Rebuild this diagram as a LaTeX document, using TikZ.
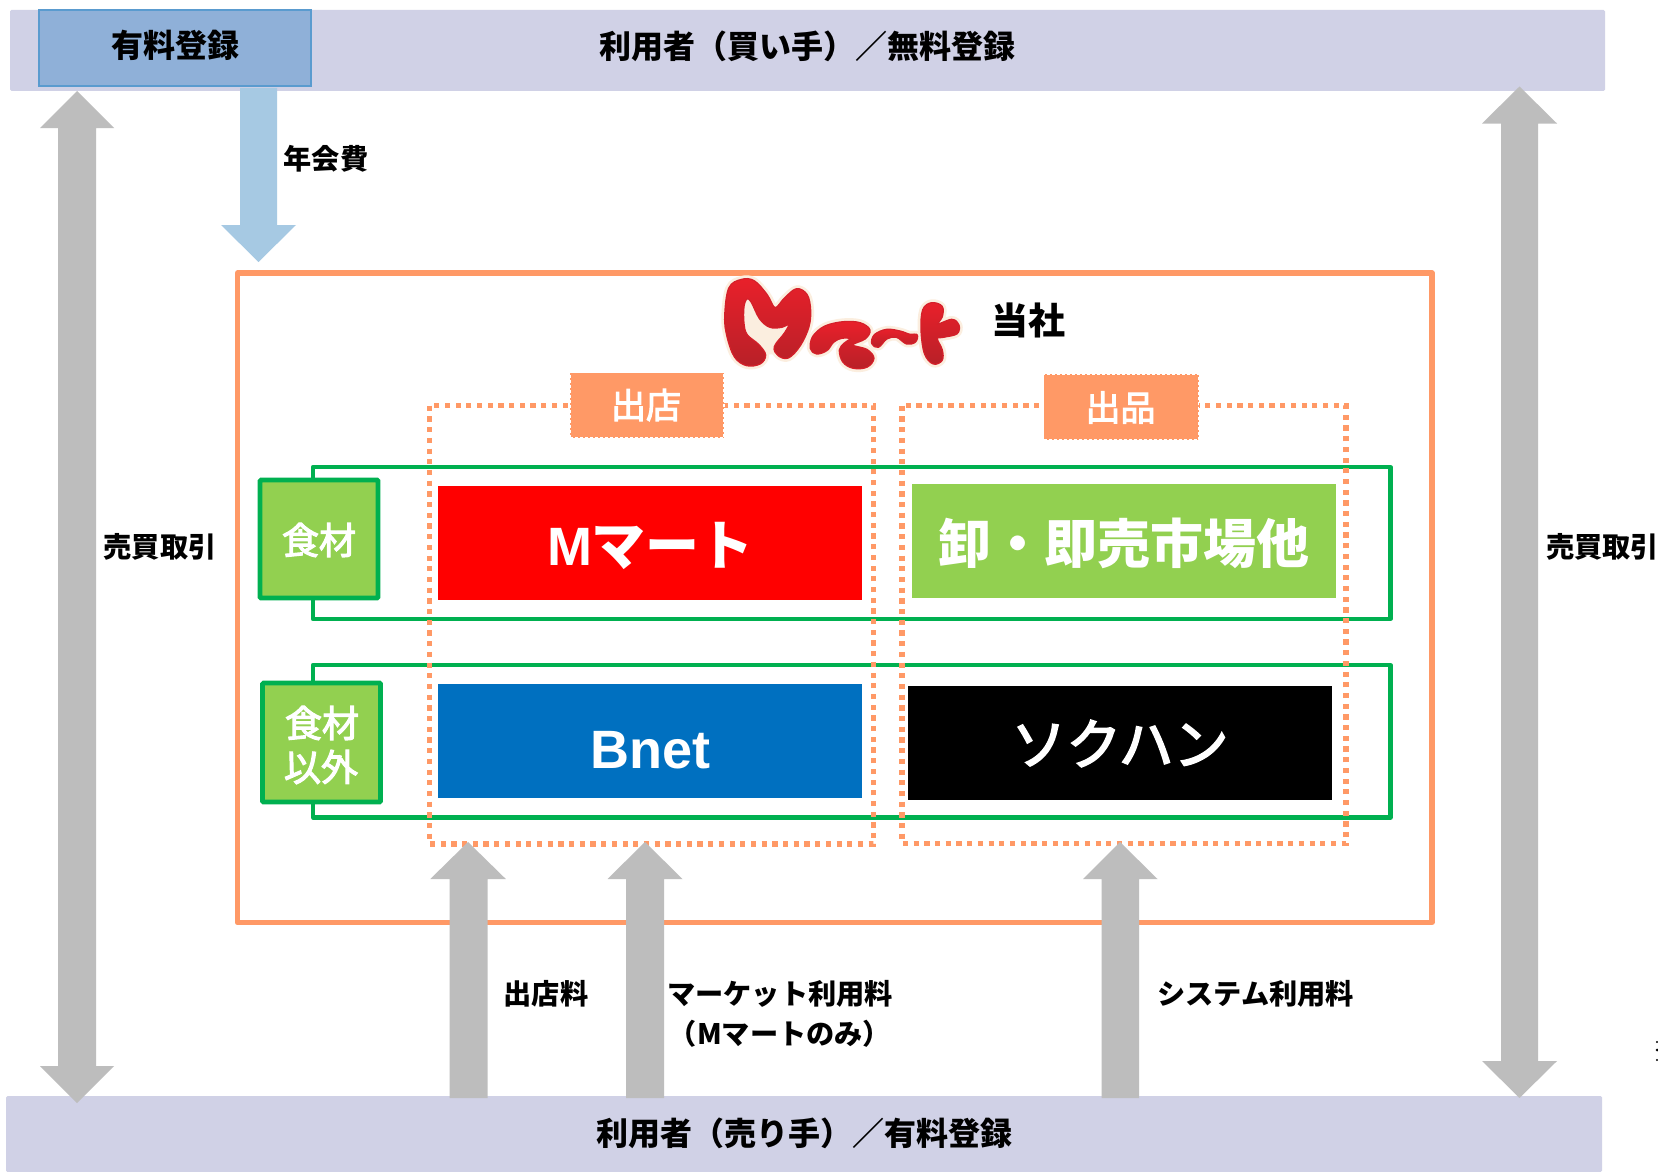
\documentclass[tikz,border=0pt]{standalone}
\usepackage{fontspec}
\setmainfont{Noto Sans CJK JP}
\newfontfamily\arialf{Liberation Sans}
\newfontfamily\medf[FakeBold=3]{Noto Sans CJK JP}
\newcommand{\fsz}[1]{\fontsize{#1}{#1}\selectfont}
\definecolor{barC}{HTML}{D0D1E6}
\definecolor{payC}{HTML}{8FB0D8}
\definecolor{payE}{HTML}{5A9BCF}
\definecolor{feeC}{HTML}{A6C9E3}
\definecolor{grayA}{HTML}{BDBDBD}
\definecolor{orangeC}{HTML}{FF9966}
\definecolor{greenD}{HTML}{00B050}
\definecolor{greenL}{HTML}{92D050}
\definecolor{blueB}{HTML}{0070C0}
\definecolor{creamC}{HTML}{FBEEDF}
\definecolor{logoT}{HTML}{E8202A}
\definecolor{logoB}{HTML}{B82028}
\definecolor{logoM}{HTML}{D4202A}
\tikzset{
  x=1pt,y=-1pt,
  bar/.style={fill=barC,rounded corners=1.5pt,outer sep=0pt},
  blockarrow/.style={fill=grayA,draw=none},
  feearrow/.style={fill=feeC,draw=none},
  band/.style={draw=greenD,line width=4.2pt,line join=round},
  dotframe/.style={draw=orangeC,line width=5.4pt,dash pattern=on 5.2pt off 5.5pt},
  solidbox/.style={anchor=north west,inner sep=0pt,outer sep=0pt,minimum width=424pt,minimum height=114pt},
  boxtext/.style={inner sep=0pt,text=white,font=\bfseries\fsz{53}},
  tagbox/.style={anchor=north west,inner sep=0pt,outer sep=0pt,fill=orangeC,draw=white,line width=1.3pt,dash pattern=on 3pt off 2pt},
  catbox/.style={anchor=north west,inner sep=0pt,outer sep=0pt,fill=greenL,draw=greenD,line width=4.6pt,rounded corners=1pt},
  tagtext/.style={inner sep=0pt,text=white,font=\medf\fsz{35}},
  cattext/.style={inner sep=0pt,text=white,font=\medf\fsz{37}},
  lab/.style={inner sep=0pt,text=black,font=\bfseries\fsz{28.2},align=center},
  barlab/.style={inner sep=0pt,text=black,font=\bfseries\fsz{32}},
  logohalo/.style={draw=creamC,line width=8pt,line join=round,fill=creamC},
  logoedge/.style={draw=logoM,line width=2.6pt,line join=round},
  logoink/.style={top color=logoT,bottom color=logoB,draw=none},
}
\begin{document}
\begin{tikzpicture}
\useasboundingbox (0,0) rectangle (1658,1172);
\fill[white] (0,0) rectangle (1658,1172);

% bars
\node[bar,anchor=north west,inner sep=0pt,minimum width=1595pt,minimum height=81pt] (topbar) at (10,10) {};
\node[bar,anchor=north west,inner sep=0pt,minimum width=1596pt,minimum height=76pt] (botbar) at (6,1096) {};
\node[barlab] (toptext) at (807,46) {利用者（買い手）／無料登録};
\node[barlab] (bottext) at (804,1133.5) {利用者（売り手）／有料登録};
\node[anchor=north west,inner sep=0pt,outer sep=0pt,fill=payC,draw=payE,line width=2pt,minimum width=272pt,minimum height=76pt] (paid) at (39,10) {};
\node[barlab] (paidtext) at (175,45) {有料登録};

% company frame
\draw[draw=orangeC,line width=5.4pt,line join=round] (237.5,273) rectangle (1432,922.5);

% product bands
\draw[band] (313,467) rectangle (1390.5,619);
\draw[band] (313,665) rectangle (1390.5,817.5);

% channel frames
\draw[dotframe] (429.5,405.7) rectangle (873.5,844);
\draw[dotframe] (902,405.7) rectangle (1346,843.5);

% market boxes
\node[solidbox,fill=red] (mmart) at (438,486) {};
\node[boxtext,font=\bfseries\fsz{54}] (mmarttext) at (650.5,546) {{\arialf M}マート};
\node[solidbox,fill=greenL] (oroshi) at (912,484) {};
\node[boxtext] (oroshitext) at (1124,543) {卸・即売市場他};
\node[solidbox,fill=blueB] (bnet) at (438,684) {};
\node[boxtext,font=\bfseries\arialf\fsz{54}] (bnettext) at (650.5,750.5) {Bnet};
\node[solidbox,fill=black] (sokuhan) at (908,686) {};
\node[boxtext,font=\medf\fsz{55}] (sokuhantext) at (1120,743.5) {ソクハン};

% tags
\node[tagbox,minimum width=154pt,minimum height=65pt] (shutten) at (570,372.5) {};
\node[tagtext] (shuttentext) at (646,405) {出店};
\node[tagbox,minimum width=155pt,minimum height=66pt] (shuppin) at (1043.5,374) {};
\node[tagtext] (shuppintext) at (1120.5,407.5) {出品};
\node[catbox,minimum width=118pt,minimum height=118pt] (food) at (260,480) {};
\node[cattext] (foodtext) at (319,540) {食材};
\node[catbox,minimum width=118pt,minimum height=119pt] (nonfood) at (262.5,683) {};
\node[cattext] (nonfoodA) at (322,723) {食材};
\node[cattext] (nonfoodB) at (321,767) {以外};

% grey up arrows
\fill[blockarrow] (468,842) -- (505.8,879) -- (487.5,879) -- (487.5,1098) -- (449.5,1098) -- (449.5,879) -- (430.3,879) -- cycle;
\fill[blockarrow] (645,842) -- (682.5,879) -- (664,879) -- (664,1098) -- (626,1098) -- (626,879) -- (607.5,879) -- cycle;
\fill[blockarrow] (1120,842) -- (1157.5,879) -- (1139,879) -- (1139,1098) -- (1101.5,1098) -- (1101.5,879) -- (1083,879) -- cycle;
% grey double arrows
\fill[blockarrow] (77,91) -- (114,128) -- (96,128) -- (96,1066) -- (114,1066) -- (77,1103) -- (40,1066) -- (58,1066) -- (58,128) -- (40,128) -- cycle;
\fill[blockarrow] (1519.5,86.5) -- (1557,123.5) -- (1538,123.5) -- (1538,1061) -- (1557,1061) -- (1519.5,1098) -- (1482,1061) -- (1501,1061) -- (1501,123.5) -- (1482,123.5) -- cycle;
% annual-fee arrow
\fill[feearrow] (240,88) -- (277,88) -- (277,225) -- (296,225) -- (258.5,262) -- (221,225) -- (240,225) -- cycle;

% labels
\node[lab] (nenkai) at (326,159) {年会費};
\node[lab] (baibaiL) at (160,546.5) {売買取引};
\node[lab] (baibaiR) at (1602.5,546.5) {売買取引};
\node[lab] (tenfee) at (546,993.5) {出店料};
\node[lab] (mktfee) at (780,993.5) {マーケット利用料};
\node[lab] (mktonly) at (780,1034) {（Mマートのみ）};
\node[lab] (sysfee) at (1255.5,993.5) {システム利用料};
\node[inner sep=0pt,font=\bfseries\fsz{37}] (tosha) at (1028.5,320.5) {当社};

% logo
\begin{scope}[shift={(710pt,-270pt)},x=0.3333pt,y=-0.3333pt]
  \fill[creamC] plot[smooth cycle,tension=0.6] coordinates {(100,90) (140,110) (170,165) (235,165) (205,240) (165,250) (110,195)};
  \foreach \mypath in {1,2,3} {
    \ifcase\mypath\or \tikzset{logostyle/.style={logohalo}} \or \tikzset{logostyle/.style={logoedge}} \or \tikzset{logostyle/.style={logoink}} \fi
    \path[logostyle] plot[smooth cycle,tension=0.6] coordinates {(46,140) (58,55) (95,30) (132,34) (170,75) (195,115) (225,85) (260,58) (290,75) (300,120) (295,170) (270,225) (235,262) (205,255) (195,230) (225,190) (240,160) (215,170) (180,170) (150,145) (125,95) (110,85) (100,110) (100,160) (110,195) (145,225) (165,255) (150,280) (110,285) (75,260) (53,200)};
    \path[logostyle] plot[smooth cycle,tension=0.6] coordinates {(303,235) (310,200) (345,170) (400,157) (450,160) (478,180) (465,205) (425,225) (470,240) (490,265) (470,290) (430,293) (400,275) (390,240) (405,220) (425,205) (395,203) (370,215) (350,240) (320,250)};
    \path[logostyle] plot[smooth cycle,tension=0.6] coordinates {(487,220) (495,195) (530,180) (570,185) (600,195) (620,195) (615,215) (590,220) (560,200) (530,205) (505,230)};
    \path[logostyle] plot[smooth cycle,tension=0.6] coordinates {(640,120) (665,100) (695,110) (695,140) (680,165) (725,150) (745,165) (740,190) (700,200) (680,205) (695,240) (695,270) (670,280) (645,250) (635,180)};
  }
\end{scope}

% clipped fragment at the right edge
\fill[black] (1657,1042) circle (1.2) (1657,1050) circle (1.5) (1657,1060) circle (1.2);
\end{tikzpicture}
\end{document}
